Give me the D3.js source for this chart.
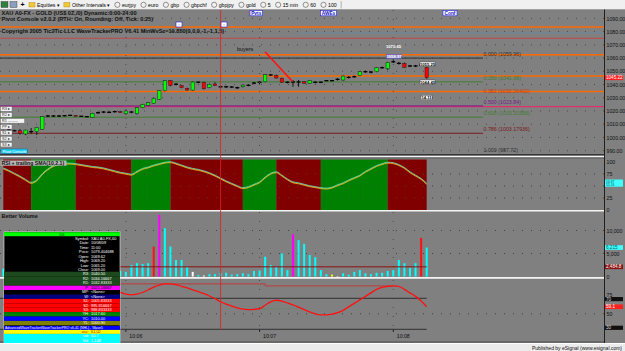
<!DOCTYPE html>
<html>
<head>
<meta charset="utf-8">
<script src="https://cdn.jsdelivr.net/npm/d3@7"></script>
<style>
html, body { margin: 0; padding: 0; background: #808080; overflow: hidden; }
svg { display: block; font-family: "Liberation Sans", Arial, sans-serif; }
</style>
</head>
<body>
<svg id="chart" width="625" height="351"></svg>
<script>
// ---- values (hourly bars, 10/05 02:00 .. 10/08 06:00) ----
const openP = [1005.1,1005.6,1005.1,1005.1,1002.6,1004.4,1004.4,1006.2,1016.2,1016.2,
  1016.2,1016.4,1016.7,1016.7,1016.0,1015.7,1015.2,1018.7,1019.2,1019.0,
  1019.5,1019.5,1017.9,1019.2,1017.9,1022.5,1024.3,1025.8,1028.8,1035.3,
  1042.9,1040.2,1039.1,1037.1,1035.8,1041.7,1041.7,1037.6,1040.4,1038.3,
  1038.3,1038.1,1037.6,1038.3,1039.4,1041.1,1041.7,1042.1,1047.2,1046.9,
  1044.7,1041.7,1041.9,1041.9,1042.1,1040.9,1041.7,1041.7,1042.9,1042.9,
  1043.9,1043.4,1045.4,1045.9,1046.9,1049.7,1049.4,1049.7,1052.7,1051.9,
  1057.2,1056.0,1056.0,1054.0,1054.0,1054.7,1053.0];
const highP = [1006.0,1006.4,1006.0,1006.3,1005.8,1007.1,1008.0,1016.2,1017.0,1016.9,
  1016.9,1016.8,1017.0,1017.0,1016.4,1016.0,1018.6,1019.6,1019.9,1019.8,
  1020.2,1020.1,1020.4,1020.0,1022.9,1025.4,1026.8,1030.0,1035.7,1043.4,
  1043.4,1041.0,1039.6,1037.6,1042.3,1042.4,1042.2,1040.7,1041.6,1039.1,
  1039.0,1038.8,1038.4,1039.9,1040.2,1042.0,1042.6,1047.9,1048.0,1047.5,
  1045.2,1042.3,1043.4,1043.4,1042.5,1043.1,1042.4,1042.4,1043.2,1043.2,
  1044.8,1046.8,1046.4,1046.8,1050.1,1050.6,1050.3,1053.1,1053.6,1057.2,
  1058.97,1057.0,1056.6,1054.8,1054.8,1055.4,1053.6];
const lowP = [1004.3,1004.8,1004.4,1002.2,1001.8,1002.6,1001.9,1005.8,1015.4,1015.5,
  1015.5,1016.0,1016.3,1016.0,1015.7,1015.4,1014.8,1017.8,1018.4,1018.3,
  1018.8,1018.6,1017.3,1018.3,1017.4,1022.1,1023.8,1025.4,1028.4,1034.8,
  1038.7,1039.4,1037.2,1035.4,1035.4,1041.0,1036.3,1037.2,1039.0,1037.2,
  1037.3,1037.3,1036.6,1037.8,1038.7,1040.2,1040.0,1041.7,1046.4,1044.6,
  1041.4,1040.9,1038.3,1038.3,1040.6,1040.5,1040.9,1040.9,1042.6,1042.6,
  1043.0,1043.0,1044.5,1045.0,1046.5,1048.8,1048.4,1049.3,1051.8,1051.0,
  1056.3,1055.0,1052.6,1053.2,1053.2,1054.0,1044.4];
const closeP = [1005.1,1005.6,1005.1,1003.1,1005.6,1004.4,1007.7,1015.7,1016.2,1016.2,
  1016.2,1016.4,1016.7,1016.2,1016.0,1015.7,1018.2,1018.7,1019.2,1019.0,
  1019.5,1019.0,1020.0,1019.2,1022.5,1025.0,1026.3,1029.6,1035.3,1042.9,
  1039.4,1040.2,1037.6,1035.8,1041.9,1041.7,1036.8,1040.2,1039.1,1038.3,
  1038.3,1038.1,1037.6,1039.6,1039.4,1041.1,1041.7,1047.4,1047.2,1044.9,
  1041.7,1041.7,1041.9,1041.9,1040.9,1042.9,1041.7,1041.7,1042.9,1042.9,
  1043.9,1046.4,1045.4,1045.9,1049.7,1049.7,1049.4,1052.7,1052.7,1056.8,
  1057.2,1056.0,1053.0,1054.0,1054.0,1054.7,1045.22];

const volume = [1700,1500,1200,2100,1900,1600,2300,5200,1800,1100,
  900,700,600,800,700,600,1900,1300,1000,900,
  1100,1200,1000,2500,2900,2700,2900,6500,13400,10500,
  6500,3600,3600,2100,1000,300,200,500,500,800,
  800,400,500,700,500,1200,1300,4300,2500,2100,
  5000,1400,9200,7900,7100,4700,4200,1400,500,400,
  100,700,400,1000,1400,700,500,800,800,1200,
  1400,3600,2900,1900,2900,8400,6300];
// c = normal, r = climax, m = churn, w = low volume, y = other
const volKind = ("c".repeat(27) + "rm" + "c".repeat(5) + "wcw" + "c".repeat(15) + "m" + "c".repeat(6) + "yw" + "c".repeat(14) + "rc").split("");
const volAverage = 2100;

const rsi = [87,82,76,70,63,57,62,75,85,92,
  96,97,97,96,94,92,90,89,87,84,
  81,78,76,74,80,86,89,93,96,99,
  100,97,93,89,86,84,81,77,72,66,
  60,55,50,46,48,53,58,68,76,79,
  72,64,58,56,53,50,48,46,45,47,
  52,56,62,67,72,80,86,92,96,99,
  98,94,88,79,72,65,55];
const rsiBandStart = [0, 5, 13, 23, 30, 43, 49, 57, 69];
const rsiBandEnd   = [5, 13, 23, 30, 43, 49, 57, 69, 76];
const rsiBandUp    = [false, true, false, true, false, true, false, true, false];

const osc = [62,60,58,57,57,59,62,66,70,74,
  77,79,80,80,79,78,77,76,76,77,
  78,77.5,75.5,74.5,75.5,77.5,81,84.5,87,88.5,
  88.7,87.5,85.5,83.5,81,78.5,76,73,69.5,65.5,
  62.5,60,57.5,56,55.5,55.8,56.5,61,65.5,67.5,
  66.5,64,61.5,58.5,55.5,52.5,50,48.7,48.5,49.5,
  51.5,54.5,59,63.5,68,72.5,77,81.5,84,85.5,
  86,85.5,81.5,77,72.5,66.5,59.1];
const oscHighIdx = [21,22,23,24,25,26,27,28,29,30,31,32,33,34,35,36,37,38,39,40,41,42,43,44,45,46,
  47,48,49,50,51,52,53,54,55,56,57,58,59,60,61,62,63,64,65,66,67,68,69,70];
const oscHigh = [88.6,88.6,88.6,88.6,88.6,88.6,88.6,88.6,88.6,88.6,88.6,88.6,88.6,88.6,88.6,88.6,88.6,88.6,88.6,88.6,88.6,88.6,88.6,88.6,88.6,88.6,
  86,86,86,86,86,86,86,86,86,86,86,86,86,86,86,86,86,86,86,86,86,86,86,86];
const oscSigIdx = [44,45,46,47,48,49,50,51,52,53];
const oscSig = [55.5,55.6,55.8,56.2,56.4,56.6,56.8,57,57.1,57.2];

const dayTickIdx = [22, 46, 70];
const dayTickLabels = ["10:06", "10:07", "10:08"];
const priceTicks = [1090,1080,1070,1060,1050,1040,1030,1020,1010,1000,990];
const rsiTicks = [100, 75, 25, 0];
const rsiGrid = [75, 50, 25];
const volTicks = [10000, 5000, 0];
const oscTicks = [75, 50];

const pivotLevels = [1083.4, 1062.5, 1046.4, 1034.7];
const redLevels = [1074.9, 1023.3];
const redLevelColors = ["#c04848", "#e0306a"];
const blueLevel = 1079.1;

const fibRatios = ["0.000", "0.250", "0.382", "0.500", "0.618", "0.786", "1.000"];
const fibPrices = ["1059.96", "1041.98", "1032.26432", "1023.84", "1015.31568", "1003.17936", "987.72"];
const fibColors = ["#303030", "#3f7f2f", "#c04010", "#7a1a8a", "#3f7f2f", "#7a1a1a", "#303030"];

const toolbarItems = ["eurjpy", "euro", "gbp", "gbpchf", "gbpjpy", "gold", "5", "15 min", "60", "100"];

const winRows = [
  ["Symbol:", "XAU A0-FX,60"], ["Date:", "10/08/09"], ["Time:", "11:00"], ["Price:", "1079.404688"],
  ["Open:", "1069.62"], ["High:", "1069.20"], ["Low:", "1065.20"], ["Close:", "1069.00"]];
const winPivots = [
  ["#1d4a1d", "R3:", "1040.50"], ["#1d4a1d", "R2:", "1034.16667"], ["#1d4a1d", "R1:", "1032.83333"],
  ["#ff00ff", "P:", "1021.16667"], ["#000000", "MP:", "<None>"], ["#000080", "W:", "<None>"],
  ["#ff0000", "S1:", "1005.83333"], ["#ff0000", "S2:", "995.916667"], ["#ff0000", "S3:", "988.833333"],
  ["#008000", "YH:", "1017.60"], ["#0000ff", "YC:", "1010.00"], ["#808000", "YL:", "1000.90"]];

// ---- scales ----
const x = d3.scaleLinear().domain([0, 76]).range([3.3, 426.7]);
const yP = d3.scaleLinear().domain([986.75, 1096.3]).range([155, 10]);
const yR = d3.scaleLinear().domain([0, 100]).range([210, 162]);
const yV = d3.scaleLinear().domain([0, 10000]).range([276.5, 230.5]);
const yO = d3.scaleLinear().domain([30, 70]).range([329.3, 298.3]);

const svg = d3.select("#chart");
const AX = 604.5;
svg.append("rect").attr("width", 625).attr("height", 351).attr("fill", "#808080");

// ---- toolbar ----
const tb = svg.append("g").attr("font-size", 5.2).attr("fill", "#000");
tb.append("rect").attr("width", 625).attr("height", 9.5).attr("fill", "#f0f0f0");
tb.append("line").attr("x1", 0).attr("x2", 625).attr("y1", 9.5).attr("y2", 9.5).attr("stroke", "#a0a0a0");
tb.append("rect").attr("x", 1).attr("y", 1.5).attr("width", 7).attr("height", 6).attr("fill", "#2f7f3f").attr("stroke", "#333").attr("stroke-width", 0.4);
tb.append("rect").attr("x", 10).attr("y", 1.5).attr("width", 7).attr("height", 6).attr("fill", "#8aa0c0").attr("stroke", "#333").attr("stroke-width", 0.4);
tb.append("text").attr("x", 20.5).attr("y", 7.2).attr("font-weight", "bold").attr("font-size", 7).text("+");
let tx = 29;
["Equities", "Other Intervals"].forEach(name => {
  tb.append("rect").attr("x", tx).attr("y", 2.5).attr("width", 6).attr("height", 4.5).attr("fill", "#f0c838").attr("stroke", "#a08020").attr("stroke-width", 0.4);
  const t = tb.append("text").attr("x", tx + 8).attr("y", 7).text(name + " ▾");
  tx += 8 + t.node().getComputedTextLength() + 4;
});
tx = Math.max(tx, 101);
toolbarItems.forEach(name => {
  tb.append("circle").attr("cx", tx + 3).attr("cy", 4.8).attr("r", 2.6).attr("fill", "none").attr("stroke", "#333").attr("stroke-width", 0.5);
  const t = tb.append("text").attr("x", tx + 7.5).attr("y", 7).text(name);
  tx += 7.5 + t.node().getComputedTextLength() + 4.5;
});
tb.append("line").attr("x1", tx).attr("x2", tx).attr("y1", 1).attr("y2", 8.5).attr("stroke", "#b0b0b0");

// ---- main price panel ----
const main = svg.append("g");
priceTicks.forEach(t => {
  main.append("line").attr("x1", 0).attr("x2", AX).attr("y1", yP(t)).attr("y2", yP(t))
    .attr("stroke", "#4a4a4a").attr("stroke-dasharray", "1,8");
});
const vGrid = [[10, 154], [160, 210], [212, 276], [280, 329]];
dayTickIdx.forEach(i => vGrid.forEach(([a, b]) => {
  svg.append("line").attr("x1", x(i)).attr("x2", x(i)).attr("y1", a).attr("y2", b)
    .attr("stroke", "#4a4a4a").attr("stroke-dasharray", "1,8");
}));

pivotLevels.forEach(p => {
  main.append("line").attr("x1", 0).attr("x2", AX).attr("y1", yP(p)).attr("y2", yP(p))
    .attr("stroke", "#ff6a00").attr("stroke-width", 1.5);
});
redLevels.forEach((p, k) => {
  main.append("line").attr("x1", 0).attr("x2", AX).attr("y1", yP(p)).attr("y2", yP(p))
    .attr("stroke", redLevelColors[k]).attr("stroke-width", 1.1);
});
main.append("line").attr("x1", 300).attr("x2", AX).attr("y1", yP(blueLevel)).attr("y2", yP(blueLevel))
  .attr("stroke", "#6a8aa8").attr("stroke-width", 0.8);

// fibonacci retracement lines + labels
fibPrices.forEach((p, k) => {
  const yy = yP(+p);
  if (k !== 2 && k !== 6) {
    main.append("line").attr("x1", 0).attr("x2", 483).attr("y1", yy).attr("y2", yy)
      .attr("stroke", fibColors[k]).attr("stroke-width", 1);
  }
  main.append("text").attr("x", 483.5).attr("y", Math.min(yy - 1.8, 152.5)).attr("font-size", 5.3)
    .attr("fill", fibColors[k]).text(`${fibRatios[k]} (${p})`);
});

// candles
const bars = openP.map((o, i) => ({ i, o, h: highP[i], l: lowP[i], c: closeP[i] }));
const cg = main.append("g");
cg.selectAll("line.wick").data(bars).join("line").attr("class", "wick")
  .attr("x1", d => x(d.i)).attr("x2", d => x(d.i))
  .attr("y1", d => yP(d.h)).attr("y2", d => yP(d.l))
  .attr("stroke", "#111").attr("stroke-width", 1);
cg.selectAll("rect.body").data(bars.filter(d => d.c !== d.o)).join("rect").attr("class", "body")
  .attr("x", d => x(d.i) - 1.7).attr("width", 3.4)
  .attr("y", d => yP(Math.max(d.o, d.c)))
  .attr("height", d => Math.max(1, Math.abs(yP(d.o) - yP(d.c))))
  .attr("fill", d => d.c > d.o ? "#00ff00" : "#ff0000")
  .attr("stroke", "#222").attr("stroke-width", 0.5);
cg.selectAll("line.doji").data(bars.filter(d => d.c === d.o)).join("line").attr("class", "doji")
  .attr("x1", d => x(d.i) - 2).attr("x2", d => x(d.i) + 2)
  .attr("y1", d => yP(d.c)).attr("y2", d => yP(d.c))
  .attr("stroke", "#000").attr("stroke-width", 1.3);

// header texts
const hdr = svg.append("g").attr("font-size", 5.6).attr("fill", "#111").attr("font-weight", "bold");
hdr.append("text").attr("x", 1.5).attr("y", 15).text("XAU A0-FX - GOLD (US$ 0Z,/0) Dynamic:0:00-24:00");
hdr.append("text").attr("x", 1.5).attr("y", 21).text("Pivot Console v2.0.2 (RTH: On, Rounding: Off, Tick: 0.25)");
hdr.append("text").attr("x", 1.5).attr("y", 32.5).text("Copyright 2005 Tic2Tic LLC WaveTrackerPRO V6.41 MinWvSz=19.850(0,0,0,-1,-1,1,5)");
svg.append("text").attr("x", 237).attr("y", 51).attr("font-size", 5.4).attr("fill", "#111").text("buyers");
svg.append("line").attr("x1", 265).attr("y1", 51.7).attr("x2", 292.7).attr("y2", 81.7)
  .attr("stroke", "#ff1010").attr("stroke-width", 1.5);

// blue tag buttons at top
[["Pvts", 250, 262.5], ["AWEs", 320.5, 336.5], ["Conf", 443, 457]].forEach(([t, a, b]) => {
  svg.append("rect").attr("x", a).attr("y", 10.5).attr("width", b - a).attr("height", 5.3)
    .attr("fill", "#fff").attr("stroke", "#2020e0").attr("stroke-width", 0.6);
  svg.append("text").attr("x", (a + b) / 2).attr("y", 14.8).attr("text-anchor", "middle")
    .attr("font-size", 4.8).attr("fill", "#1010c0").attr("font-weight", "bold").text(t);
});
[176, 221].forEach(a => {
  svg.append("rect").attr("x", a).attr("y", 22).attr("width", 6).attr("height", 5)
    .attr("fill", "#fff").attr("stroke", "#2020e0").attr("stroke-width", 0.6);
  svg.append("text").attr("x", a + 3).attr("y", 26).attr("text-anchor", "middle")
    .attr("font-size", 4).attr("fill", "#1010c0").text("::");
});

// price tags near the last bars
const tags = [
  { x: 387, y: 44, w: 13, text: "1070.65", fill: "none", stroke: "none", color: "#fff" },
  { x: 386.5, y: 54.3, w: 15, text: "1058.97", fill: "#8a8ac8", stroke: "#4040c0", color: "#fff" },
  { x: 420, y: 62, w: 15, text: "1055.25", fill: "#fff", stroke: "#333", color: "#000" },
  { x: 420, y: 80, w: 15, text: "1044.45", fill: "#fff", stroke: "#333", color: "#000" },
  { x: 421, y: 95.3, w: 11, text: "14.11", fill: "#fff", stroke: "#333", color: "#000" }];
tags.forEach(t => {
  svg.append("rect").attr("x", t.x).attr("y", t.y).attr("width", t.w).attr("height", 4.3)
    .attr("fill", t.fill).attr("stroke", t.stroke).attr("stroke-width", 0.4);
  svg.append("text").attr("x", t.x + t.w / 2).attr("y", t.y + 3.6).attr("text-anchor", "middle")
    .attr("font-size", 4.2).attr("fill", t.color).attr("font-weight", "bold").text(t.text);
});

// small side buttons on the left of the price pane
const sideBtns = ["R3 ▸", "R2 ▸", "R1 --------", "PP ▸", "S1 ▸", "S2 ▸", "S3 ▸"];
sideBtns.forEach((t, k) => {
  const wide = t.length > 6;
  svg.append("rect").attr("x", 0.5).attr("y", 106.7 + k * 5.95).attr("width", wide ? 24 : 11.5).attr("height", 4.5)
    .attr("fill", "#f4f4f4").attr("stroke", "#666").attr("stroke-width", 0.4);
  svg.append("text").attr("x", 2).attr("y", 110.3 + k * 5.95).attr("font-size", 3.8).attr("fill", "#222").text(t);
});
svg.append("rect").attr("x", 1).attr("y", 149).attr("width", 26.5).attr("height", 4.5)
  .attr("fill", "#20d0f0").attr("stroke", "#0060a0").attr("stroke-width", 0.5);
svg.append("text").attr("x", 2.5).attr("y", 152.6).attr("font-size", 3.9).attr("fill", "#fff").text("Pivot Console");

// pane separators
svg.append("line").attr("x1", 0).attr("x2", AX).attr("y1", 154.6).attr("y2", 154.6).attr("stroke", "#303030").attr("stroke-width", 1);
svg.append("line").attr("x1", 0).attr("x2", AX).attr("y1", 156.6).attr("y2", 156.6).attr("stroke", "#f4f4f4").attr("stroke-width", 1.4);
svg.append("line").attr("x1", 0).attr("x2", AX).attr("y1", 158).attr("y2", 158).attr("stroke", "#505050").attr("stroke-width", 0.8);

// ---- RSI pane ----
const rg = svg.append("g");
rsiBandStart.forEach((s, k) => {
  rg.append("rect").attr("x", x(s)).attr("y", 159.5).attr("width", x(rsiBandEnd[k]) - x(s)).attr("height", 50.5)
    .attr("fill", rsiBandUp[k] ? "#008000" : "#800000");
});
rsiGrid.forEach(t => {
  rg.append("line").attr("x1", 0).attr("x2", AX).attr("y1", yR(t)).attr("y2", yR(t))
    .attr("stroke", "#404040").attr("stroke-dasharray", "1,8");
});
const rsiLine = d3.line().x((d, i) => x(i)).y(d => yR(d)).curve(d3.curveMonotoneX);
rg.append("path").attr("d", rsiLine(rsi)).attr("fill", "none").attr("stroke", "#ff9a20").attr("stroke-width", 0.8)
  .attr("transform", "translate(0,0.7)");
rg.append("path").attr("d", rsiLine(rsi)).attr("fill", "none").attr("stroke", "#50e0e0").attr("stroke-width", 0.8)
  .attr("transform", "translate(0,-0.3)");
rg.append("path").attr("d", rsiLine(rsi)).attr("fill", "none").attr("stroke", "#d8e830").attr("stroke-width", 0.45)
  .attr("transform", "translate(0,0.25)");
rg.append("rect").attr("x", 0.5).attr("y", 160.5).attr("width", 66).attr("height", 5.2).attr("fill", "#b8b8b8");
rg.append("text").attr("x", 1.5).attr("y", 164.6).attr("font-size", 5.2).attr("fill", "#111").attr("font-weight", "bold")
  .text("RSI + trailing SMA(10,2,1)");
svg.append("line").attr("x1", 0).attr("x2", AX).attr("y1", 210.8).attr("y2", 210.8).attr("stroke", "#f4f4f4").attr("stroke-width", 1.6);

// ---- Better Volume pane ----
const vg = svg.append("g");
volTicks.filter(t => t > 0).forEach(t => {
  vg.append("line").attr("x1", 0).attr("x2", AX).attr("y1", yV(t)).attr("y2", yV(t))
    .attr("stroke", "#404040").attr("stroke-dasharray", "1,8");
});
const volColor = { c: "#00ffff", r: "#ff1010", m: "#ff00ff", w: "#ffffff", y: "#ffff00" };
vg.selectAll("rect").data(volume).join("rect")
  .attr("x", (d, i) => x(i) - 1).attr("width", 2)
  .attr("y", d => yV(d)).attr("height", d => yV(0) - yV(d))
  .attr("fill", (d, i) => volColor[volKind[i]]);
vg.append("line").attr("x1", x(0)).attr("x2", x(76)).attr("y1", yV(volAverage)).attr("y2", yV(volAverage))
  .attr("stroke", "#8a1010").attr("stroke-width", 1);
vg.append("text").attr("x", 1.5).attr("y", 217.5).attr("font-size", 5.4).attr("fill", "#111").attr("font-weight", "bold").text("Better Volume");
svg.append("line").attr("x1", 0).attr("x2", AX).attr("y1", 277.9).attr("y2", 277.9).attr("stroke", "#f4f4f4").attr("stroke-width", 1.8);

// ---- oscillator pane ----
const og = svg.append("g");
og.append("line").attr("x1", 0).attr("x2", AX).attr("y1", yO(50)).attr("y2", yO(50))
  .attr("stroke", "#404040").attr("stroke-dasharray", "1,8");
[70, 30].forEach(v => og.append("line").attr("x1", 0).attr("x2", x(76)).attr("y1", yO(v)).attr("y2", yO(v))
  .attr("stroke", "#303030").attr("stroke-width", 1));
const oLine = d3.line().x(d => x(d[0])).y(d => yO(d[1])).curve(d3.curveMonotoneX);
og.append("path").attr("d", d3.line().x(d => x(d[0])).y(d => yO(d[1])).curve(d3.curveStepAfter)(oscHighIdx.map((i, k) => [i, oscHigh[k]])))
  .attr("fill", "none").attr("stroke", "#c03838").attr("stroke-width", 1);
og.append("path").attr("d", oLine(oscSigIdx.map((i, k) => [i, oscSig[k]])))
  .attr("fill", "none").attr("stroke", "#5a8a5a").attr("stroke-width", 0.8).attr("stroke-dasharray", "1.5,1");
og.append("path").attr("d", oLine(osc.map((v, i) => [i, v])))
  .attr("fill", "none").attr("stroke", "#ff1010").attr("stroke-width", 1.3);

// cursor line
svg.append("line").attr("x1", x(39)).attr("x2", x(39)).attr("y1", 10).attr("y2", 330)
  .attr("stroke", "#e02020").attr("stroke-width", 0.8);

// ---- time axis ----
const ta = svg.append("g");
dayTickIdx.forEach((i, k) => {
  ta.append("line").attr("x1", x(i)).attr("x2", x(i)).attr("y1", 329.5).attr("y2", 332).attr("stroke", "#222");
  ta.append("text").attr("x", x(i) + 3.5).attr("y", 337.5).attr("font-size", 5.2).attr("fill", "#111").text(dayTickLabels[k]);
});
ta.append("line").attr("x1", 0).attr("x2", AX).attr("y1", 342).attr("y2", 342).attr("stroke", "#505050");

// ---- right axis ----
svg.append("line").attr("x1", AX).attr("x2", AX).attr("y1", 9.5).attr("y2", 343).attr("stroke", "#202020").attr("stroke-width", 1);
const ra = svg.append("g").attr("font-size", 5.2).attr("fill", "#111");
const pAxis = d3.axisRight(yP).tickValues(priceTicks).tickFormat(d3.format(".2f")).tickSize(0).tickPadding(2);
ra.append("g").attr("transform", `translate(${AX},0)`).call(pAxis);
const rAxis = d3.axisRight(yR).tickValues(rsiTicks).tickFormat(d3.format("d")).tickSize(0).tickPadding(2);
ra.append("g").attr("transform", `translate(${AX},0)`).call(rAxis);
const vAxis = d3.axisRight(yV).tickValues(volTicks).tickFormat(d3.format(",d")).tickSize(0).tickPadding(2);
ra.append("g").attr("transform", `translate(${AX},0)`).call(vAxis);
const oAxis = d3.axisRight(yO).tickValues(oscTicks).tickFormat(d3.format("d")).tickSize(0).tickPadding(2);
ra.append("g").attr("transform", `translate(${AX},0)`).call(oAxis);
ra.selectAll(".domain").remove();
ra.selectAll("text").attr("font-size", 5.2).attr("fill", "#111").attr("font-family", "Liberation Sans, Arial, sans-serif");

function axisTag(yc, text, fill, color, h) {
  svg.append("rect").attr("x", AX + 0.5).attr("y", yc - h / 2).attr("width", 18).attr("height", h).attr("fill", fill);
  const lines = text.split("|");
  lines.forEach((t, k) => svg.append("text").attr("x", AX + 1.5).attr("y", yc - h / 2 + 3.6 + k * 3.3)
    .attr("font-size", lines.length > 1 ? 3.4 : 4.6).attr("fill", color).text(t));
}
axisTag(yP(closeP[76]), "1045.22", "#ff2020", "#fff", 5);
axisTag(yR(rsi[76]) - 0.5, "56.87|55.16", "#40ffff", "#006060", 7.2);
axisTag(yV(volume[76]), "6,215", "#40ffff", "#006060", 4.6);
axisTag(yV(volAverage), "2,484.8", "#8a1010", "#fff", 4.6);
axisTag(yO(osc[76]), "59.1", "#ff2020", "#fff", 4.6);
axisTag(yO(70) + 0.8, "70", "#101010", "#ddd", 4.2);
axisTag(yO(30) - 1.5, "30", "#101010", "#ddd", 4.2);

// ---- data window ----
const dw = svg.append("g").attr("font-size", 3.9);
const dx0 = 4, dx1 = 120;
dw.append("rect").attr("x", dx0).attr("y", 231.8).attr("width", dx1 - dx0).attr("height", 111.5).attr("fill", "#000").attr("stroke", "#e8e8e8").attr("stroke-width", 0.6);
dw.append("rect").attr("x", dx0).attr("y", 232.2).attr("width", dx1 - dx0).attr("height", 4).attr("fill", "#00ff00");
dw.append("text").attr("x", (dx0 + dx1) / 2).attr("y", 235.5).attr("text-anchor", "middle").attr("fill", "#004000").text("D6");
winRows.forEach(([a, b], k) => {
  const yy = 240 + k * 4.45;
  dw.append("text").attr("x", 89).attr("y", yy).attr("text-anchor", "end").attr("fill", "#fff").text(a);
  dw.append("text").attr("x", 91).attr("y", yy).attr("fill", "#fff").text(b);
});
let wy = 271.7;
winPivots.forEach(([bg, a, b], k) => {
  const h = k < 3 ? 4.67 : 4.4;
  dw.append("rect").attr("x", dx0).attr("y", wy).attr("width", dx1 - dx0).attr("height", h).attr("fill", bg);
  const tc = bg === "#ff00ff" ? "#000" : "#fff";
  dw.append("text").attr("x", 89).attr("y", wy + 3.3).attr("text-anchor", "end").attr("fill", tc).text(a);
  dw.append("text").attr("x", 91).attr("y", wy + 3.3).attr("fill", tc).text(b);
  wy += h;
});
wy += 0.6;
dw.append("rect").attr("x", dx0).attr("y", wy).attr("width", dx1 - dx0).attr("height", 4).attr("fill", "#0000ff");
dw.append("text").attr("x", dx0 + 1).attr("y", wy + 3.1).attr("fill", "#fff").attr("font-size", 3.5)
  .text("AdvancedWaveTrackerWaveTrackerPRO v6.41 (NHL) - Wave5");
wy += 4;
dw.append("rect").attr("x", dx0).attr("y", wy).attr("width", dx1 - dx0).attr("height", 4).attr("fill", "#ffff00");
dw.append("text").attr("x", 89).attr("y", wy + 3.2).attr("text-anchor", "end").attr("fill", "#c00000").text("osc:");
dw.append("text").attr("x", 91).attr("y", wy + 3.2).attr("fill", "#c00000").text("61.02");
wy += 4;
dw.append("rect").attr("x", dx0).attr("y", wy).attr("width", dx1 - dx0).attr("height", 343 - wy).attr("fill", "#00ffff");
[["vol:", "60.7"], ["Vol:", "1,148"]].forEach(([a, b], k) => {
  dw.append("text").attr("x", 89).attr("y", wy + 3.4 + k * 4.2).attr("text-anchor", "end").attr("fill", "#fff").text(a);
  dw.append("text").attr("x", 91).attr("y", wy + 3.4 + k * 4.2).attr("fill", "#fff").text(b);
});

// ---- status bar ----
svg.append("rect").attr("x", 0).attr("y", 343.5).attr("width", 625).attr("height", 7.5).attr("fill", "#ececec");
svg.append("line").attr("x1", 0).attr("x2", 625).attr("y1", 343.5).attr("y2", 343.5).attr("stroke", "#ffffff");
svg.append("text").attr("x", 622).attr("y", 349.5).attr("text-anchor", "end").attr("font-size", 5).attr("fill", "#111")
  .text("Published by eSignal (www.esignal.com)");
</script>
</body>
</html>
